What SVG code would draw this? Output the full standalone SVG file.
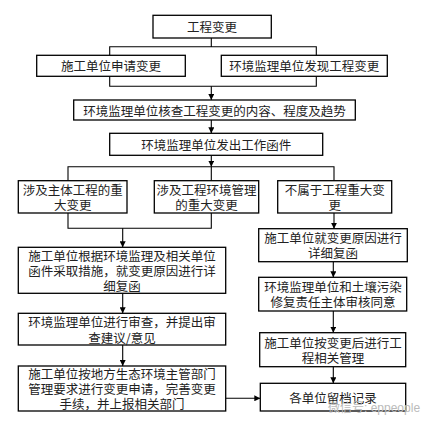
<svg xmlns="http://www.w3.org/2000/svg" width="421" height="425" viewBox="0 0 421 425">
<defs>
<marker id="ah" viewBox="0 0 10 10" refX="10" refY="5" markerWidth="6" markerHeight="6" markerUnits="userSpaceOnUse" orient="auto">
<path d="M0,0 L10,5 L0,10 z" fill="#000"/>
</marker>
<style>
.box{fill:#fff;stroke:#000;stroke-width:1.3}
.t{font-family:"Noto Sans CJK SC","Noto Sans",sans-serif;font-size:12.5px;fill:#222;text-anchor:middle;dominant-baseline:central}
.c{fill:none;stroke:#000;stroke-width:1.1}
.a{fill:none;stroke:#000;stroke-width:1.1;marker-end:url(#ah)}
.wm{font-family:"Liberation Sans","Noto Sans CJK SC",sans-serif;font-size:12px;fill:#bbb}
</style>
</defs>
<rect width="421" height="425" fill="#fff"/>
<g id="connectors">
<path class="c" d="M211.3,38 V46.7 M109.7,55.3 V46.7 H316.3 V55.3"/>
<path class="c" d="M109.7,76.3 V86.3 H316.3 V76.3"/>
<path class="a" d="M211.3,86.3 V100"/>
<path class="a" d="M211.3,120 V133.3"/>
<path class="a" d="M211.3,155.3 V166.7"/>
<path class="c" d="M68,180.7 V166.7 H334 V180.7 M211.3,166.7 V180.7"/>
<path class="c" d="M68,213 V228.3 H211.3 V213"/>
<path class="a" d="M122.7,228.3 V247.3"/>
<path class="a" d="M334,213 V228.7"/>
<path class="a" d="M122.7,293.3 V313.3"/>
<path class="a" d="M333.3,261.7 V277.3"/>
<path class="a" d="M333.3,311 V332.7"/>
<path class="a" d="M122.7,345 V366"/>
<path class="a" d="M333.3,366.7 V383.3"/>
<path class="a" d="M225.7,398.3 H260.3"/>
</g>
<g id="n1"><rect class="box" x="153" y="15.3" width="118.3" height="22.7"/><text class="t" x="212" y="26.7">工程变更</text></g>
<g id="n2"><rect class="box" x="36.7" y="55.3" width="148.6" height="21"/><text class="t" x="111" y="65.8">施工单位申请变更</text></g>
<g id="n3"><rect class="box" x="221.3" y="55.3" width="166" height="21"/><text class="t" x="304.3" y="65.8">环境监理单位发现工程变更</text></g>
<g id="n4"><rect class="box" x="73.7" y="100" width="281.6" height="20"/><text class="t" x="214.5" y="110">环境监理单位核查工程变更的内容、程度及趋势</text></g>
<g id="n5"><rect class="box" x="109.7" y="133.3" width="213" height="22"/><text class="t" x="216.2" y="144.3">环境监理单位发出工作函件</text></g>
<g id="n6"><rect class="box" x="18.3" y="180.7" width="108.7" height="32.3"/><text class="t" x="72.7" y="189.7">涉及主体工程的重<tspan x="72.7" dy="14.5">大变更</tspan></text></g>
<g id="n7"><rect class="box" x="154.3" y="180.7" width="104.4" height="32.3"/><text class="t" x="206.5" y="189.7">涉及工程环境管理<tspan x="206.5" dy="14.5">的重大变更</tspan></text></g>
<g id="n8"><rect class="box" x="277.7" y="180.7" width="114" height="32.3"/><text class="t" x="334.7" y="189.7">不属于工程重大变<tspan x="334.7" dy="14.5">更</tspan></text></g>
<g id="n9"><rect class="box" x="18.3" y="247.3" width="207.4" height="46"/><text class="t" x="122" y="255.5">施工单位根据环境监理及相关单位<tspan x="122" dy="14.7">函件采取措施，就变更原因进行详</tspan><tspan x="122" dy="14.7">细复函</tspan></text></g>
<g id="n10"><rect class="box" x="18.3" y="313.3" width="207.4" height="31.7"/><text class="t" x="122" y="321.9">环境监理单位进行审查，并提出审<tspan x="122" dy="14.7">查建议/意见</tspan></text></g>
<g id="n11"><rect class="box" x="18.3" y="366" width="207.4" height="45"/><text class="t" x="122" y="373.5">施工单位按地方生态环境主管部门<tspan x="122" dy="14.7">管理要求进行变更申请，完善变更</tspan><tspan x="122" dy="14.7">手续，并上报相关部门</tspan></text></g>
<g id="n12"><rect class="box" x="258.7" y="228.7" width="148.6" height="33"/><text class="t" x="333" y="237.2">施工单位就变更原因进行<tspan x="333" dy="14.5">详细复函</tspan></text></g>
<g id="n13"><rect class="box" x="258.7" y="277.3" width="148" height="33.7"/><text class="t" x="333" y="286.7">环境监理单位和土壤污染<tspan x="333" dy="14.6">修复责任主体审核同意</tspan></text></g>
<g id="n14"><rect class="box" x="259.7" y="332.7" width="146" height="34"/><text class="t" x="333" y="342.3">施工单位按变更后进行工<tspan x="333" dy="14.7">程相关管理</tspan></text></g>
<g id="n15"><rect class="box" x="260.3" y="383.3" width="145.4" height="27.7"/><text class="t" x="333" y="397">各单位留档记录</text></g>
<text class="wm" x="328" y="412">微信号: eppeople</text>
</svg>
